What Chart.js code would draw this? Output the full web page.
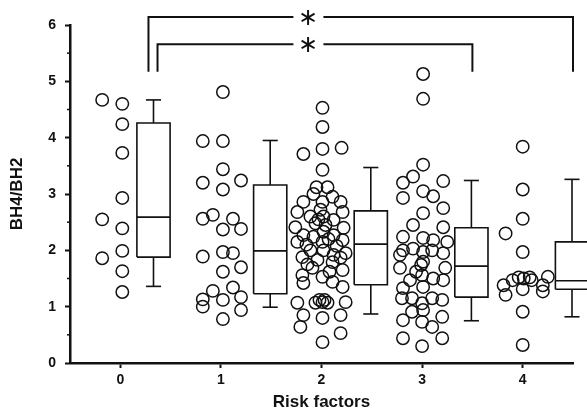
<!DOCTYPE html>
<html><head><meta charset="utf-8">
<script src="https://cdn.jsdelivr.net/npm/chart.js@4"></script>
<style>html,body{margin:0;padding:0;background:#fff}canvas{display:block}</style>
</head><body>
<canvas id="c" width="587" height="409"></canvas>
<script>
// ---------- data ----------
const categories = [0, 1, 2, 3, 4];
const xTickLabels = ['0', '1', '2', '3', '4'];
const yTicks = [0, 1, 2, 3, 4, 5, 6];
const yMinorTicks = [0.5, 1.5, 2.5, 3.5, 4.5, 5.5];
const xTitle = 'Risk factors';
const yTitle = 'BH4/BH2';

const values0 = [4.67, 2.55, 1.86, 4.60, 4.24, 3.73, 2.93, 2.39, 1.99, 1.63, 1.26];
const jitter0 = [-0.18, -0.18, -0.18, 0.02, 0.02, 0.02, 0.02, 0.02, 0.02, 0.02, 0.02];

const values1 = [4.81, 3.94, 3.94, 3.44, 3.20, 3.08, 3.24, 2.56, 2.63, 2.56, 2.37, 2.38, 1.89, 1.97, 1.95, 1.70, 1.62, 1.28, 1.34, 1.17, 1.13, 1.00, 1.12, 0.94, 0.78];
const jitter1 = [0.02, -0.18, 0.02, 0.02, -0.18, 0.02, 0.20, -0.18, -0.08, 0.12, 0.02, 0.20, -0.18, 0.02, 0.12, 0.20, 0.02, -0.08, 0.12, 0.20, -0.18, -0.18, 0.02, 0.20, 0.02];

const values2 = [4.53, 4.19, 3.80, 3.71, 3.82, 3.43, 3.12, 3.12, 3.00, 2.86, 2.86, 2.95, 2.86, 2.68, 2.72, 2.68, 2.60, 2.60, 2.54, 2.41, 2.48, 2.33, 2.40, 2.27, 2.24, 2.27, 2.15, 2.15, 2.18, 2.00, 2.00, 1.88, 1.92, 1.95, 1.83, 1.79, 1.87, 1.69, 1.56, 1.53, 1.44, 1.65, 1.42, 1.35, 1.07, 1.07, 1.08, 1.07, 1.08, 1.12, 1.12, 0.85, 0.80, 0.85, 0.64, 0.37, 0.53, 2.45, 2.55, 2.20, 1.75, 1.62, 2.08, 2.10];
const jitter2 = [0.01, 0.01, 0.01, -0.18, 0.20, 0.01, -0.05, 0.06, -0.08, -0.18, 0.01, 0.11, 0.19, -0.24, -0.01, 0.21, -0.11, 0.02, 0.12, -0.26, -0.06, 0.02, 0.22, -0.18, -0.08, 0.12, -0.24, 0.01, 0.21, -0.11, 0.02, -0.19, 0.12, 0.24, -0.04, 0.11, 0.19, -0.09, -0.19, 0.01, 0.11, 0.21, -0.18, 0.21, -0.24, -0.06, 0.01, 0.06, 0.24, -0.02, 0.03, -0.18, 0.01, 0.19, -0.21, 0.01, 0.19, 0.04, -0.03, 0.07, -0.14, 0.08, 0.15, -0.15];

const values3 = [5.13, 4.69, 3.52, 3.31, 3.20, 3.23, 3.05, 2.96, 2.93, 2.75, 2.66, 2.45, 2.41, 2.24, 2.22, 2.15, 2.18, 2.00, 2.03, 1.97, 2.00, 1.95, 1.92, 1.80, 1.74, 1.69, 1.69, 1.62, 1.56, 1.47, 1.50, 1.47, 1.33, 1.35, 1.15, 1.15, 1.06, 1.15, 1.12, 0.94, 0.91, 0.82, 0.76, 0.73, 0.64, 0.44, 0.30, 0.44];
const jitter3 = [0.01, 0.01, 0.01, -0.09, -0.19, 0.21, 0.01, 0.11, -0.19, 0.21, 0.01, -0.09, 0.21, -0.19, 0.01, 0.25, 0.11, -0.19, -0.09, 0.01, 0.10, 0.21, -0.22, 0.01, -0.01, -0.22, 0.23, -0.06, 0.00, -0.12, 0.11, 0.21, -0.19, 0.01, -0.20, -0.10, 0.00, 0.10, 0.20, 0.01, -0.10, 0.20, -0.19, 0.00, 0.10, -0.19, 0.00, 0.20];

const values4 = [3.84, 3.08, 2.56, 2.30, 1.97, 1.38, 1.21, 1.47, 1.52, 1.50, 1.52, 1.47, 1.38, 1.27, 1.53, 1.31, 0.91, 0.32];
const jitter4 = [0.00, 0.00, 0.00, -0.17, 0.00, -0.19, -0.17, -0.10, -0.04, 0.01, 0.07, 0.09, 0.20, 0.20, 0.25, 0.00, 0.00, 0.00];

const boxQ1 = [1.88, 1.23, 1.39, 1.17, 1.31];
const boxMedian = [2.59, 1.99, 2.11, 1.72, 1.46];
const boxQ3 = [4.26, 3.16, 2.70, 2.40, 2.15];
const whiskerLow = [1.36, 0.99, 0.87, 0.75, 0.82];
const whiskerHigh = [4.67, 3.95, 3.47, 3.24, 3.26];

// significance brackets (data units)
const bracketLevel = [6.14, 5.66];
const bracketFrom = [0.28, 0.37];
const bracketTo = [4.5, 3.5];
const bracketFoot = 5.17;
const bracketMark = ['∗', '∗'];
const bracketMarkX = 1.87;

// ---------- layout constants ----------
const BOX_SHIFT = [0.33, 0.49, 0.49, 0.49, 0.49];
const BOX_W = 0.33;
const CAP_W = 0.15;
const INK = '#111';

const valueSets = [values0, values1, values2, values3, values4];
const jitterSets = [jitter0, jitter1, jitter2, jitter3, jitter4];

const datasets = [];
// points
categories.forEach((c, i) => {
  datasets.push({
    type: 'scatter',
    data: valueSets[i].map((v, k) => ({ x: c + jitterSets[i][k], y: v })),
    pointStyle: 'circle',
    pointRadius: 6.2,
    pointHoverRadius: 6.2,
    borderWidth: 1.5,
    borderColor: INK,
    backgroundColor: 'rgba(0,0,0,0)',
    order: 2
  });
});
function seg(pts) {
  datasets.push({
    type: 'line',
    data: pts,
    showLine: true,
    pointRadius: 0,
    borderWidth: 1.6,
    borderColor: INK,
    backgroundColor: 'rgba(0,0,0,0)',
    fill: false,
    tension: 0,
    clip: false,
    order: 1
  });
}
// boxplots
categories.forEach((c, i) => {
  const xc = c + BOX_SHIFT[i], l = xc - BOX_W / 2, r = xc + BOX_W / 2;
  seg([{ x: l, y: boxQ1[i] }, { x: r, y: boxQ1[i] }, { x: r, y: boxQ3[i] }, { x: l, y: boxQ3[i] }, { x: l, y: boxQ1[i] }]);
  seg([{ x: l, y: boxMedian[i] }, { x: r, y: boxMedian[i] }]);
  seg([{ x: xc, y: boxQ1[i] }, { x: xc, y: whiskerLow[i] }]);
  seg([{ x: xc - CAP_W / 2, y: whiskerLow[i] }, { x: xc + CAP_W / 2, y: whiskerLow[i] }]);
  seg([{ x: xc, y: boxQ3[i] }, { x: xc, y: whiskerHigh[i] }]);
  seg([{ x: xc - CAP_W / 2, y: whiskerHigh[i] }, { x: xc + CAP_W / 2, y: whiskerHigh[i] }]);
});
// brackets
bracketLevel.forEach((lv, i) => {
  datasets.push({
    type: 'line',
    data: [{ x: bracketFrom[i], y: bracketFoot }, { x: bracketFrom[i], y: lv }, { x: bracketTo[i], y: lv }, { x: bracketTo[i], y: bracketFoot }],
    showLine: true, pointRadius: 0, borderWidth: 2, borderColor: INK, fill: false, tension: 0, clip: false, order: 1
  });
});

const extras = {
  id: 'extras',
  afterDatasetsDraw(chart) {
    const { ctx, scales: { x, y } } = chart;
    ctx.save();
    // minor y ticks
    ctx.strokeStyle = INK; ctx.lineWidth = 1.5;
    yMinorTicks.forEach(v => {
      const py = y.getPixelForValue(v);
      ctx.beginPath(); ctx.moveTo(x.left - 3, py); ctx.lineTo(x.left, py); ctx.stroke();
    });
    // asterisks
    ctx.font = '24px "DejaVu Sans"';
    bracketLevel.forEach((lv, i) => {
      const px = x.getPixelForValue(bracketMarkX), py = y.getPixelForValue(lv);
      ctx.fillStyle = '#fff';
      ctx.fillRect(px - 15, py - 4, 30, 8);
      const m = ctx.measureText(bracketMark[i]);
      const w = m.actualBoundingBoxRight + m.actualBoundingBoxLeft;
      const tx = px - w / 2 + m.actualBoundingBoxLeft;
      const ty = py + (m.actualBoundingBoxAscent - m.actualBoundingBoxDescent) / 2;
      ctx.fillStyle = INK;
      ctx.textBaseline = 'alphabetic';
      ctx.textAlign = 'left';
      ctx.fillText(bracketMark[i], tx, ty);
    });
    ctx.restore();
  }
};

const fontFam = '"Liberation Sans", Arial, sans-serif';
new Chart(document.getElementById('c'), {
  type: 'scatter',
  data: { datasets },
  options: {
    responsive: false,
    animation: false,
    events: [],
    layout: { padding: { top: 25, right: 14, left: 0, bottom: 0 } },
    plugins: { legend: { display: false }, tooltip: { enabled: false } },
    scales: {
      x: {
        type: 'linear', min: -0.5, max: 4.5,
        afterBuildTicks: s => { s.ticks = categories.map(v => ({ value: v })); },
        afterFit: s => { s.height = 46; },
        ticks: { callback: v => xTickLabels[categories.indexOf(v)], color: INK, font: { family: fontFam, size: 14, weight: 'bold' }, padding: 4, maxRotation: 0 },
        grid: { drawOnChartArea: false, drawTicks: true, tickLength: 5, tickWidth: 2, tickColor: INK },
        border: { display: true, color: INK, width: 2.5 },
        title: { display: true, text: xTitle, color: INK, font: { family: fontFam, size: 17, weight: 'bold', lineHeight: 1 }, padding: { top: 0, bottom: -2 } }
      },
      y: {
        type: 'linear', min: 0, max: 6,
        afterBuildTicks: s => { s.ticks = yTicks.map(v => ({ value: v })); },
        afterFit: s => { s.width = 70; },
        ticks: { color: INK, font: { family: fontFam, size: 14, weight: 'bold' }, padding: 9 },
        grid: { drawOnChartArea: false, drawTicks: true, tickLength: 5, tickWidth: 2, tickColor: INK },
        border: { display: true, color: INK, width: 2.5 },
        title: { display: true, text: yTitle, color: INK, font: { family: fontFam, size: 17, weight: 'bold' }, padding: { top: 7, bottom: 0 } }
      }
    }
  },
  plugins: [extras]
});
</script>
</body></html>
